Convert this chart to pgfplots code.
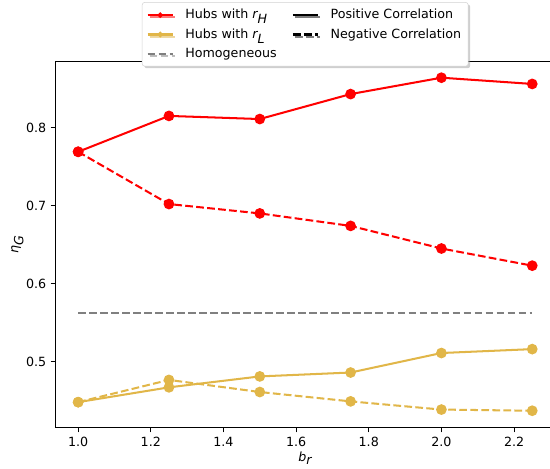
\documentclass[border=0pt]{standalone}
\usepackage{fontspec}
\setmainfont{DejaVu Sans}
\usepackage{pgfplots}
\pgfplotsset{compat=1.18}
\usetikzlibrary{shadows}
\definecolor{myred}{RGB}{255,0,0}
\definecolor{myyel}{RGB}{225,182,72}
\definecolor{mygray}{RGB}{128,128,128}
\newcommand{\lgsp}[1]{\makebox[0pt]{}\kern7pt #1}
\begin{document}
\begin{tikzpicture}
\begin{axis}[name=ax,
  scale only axis, width=394.6pt, height=289.1pt,
  xmin=0.9375, xmax=2.3125, ymin=0.4154, ymax=0.8846,
  xtick={1.0,1.2,1.4,1.6,1.8,2.0,2.2},
  ytick={0.5,0.6,0.7,0.8},
  tick align=outside, tick pos=left, major tick length=3.8pt,
  every tick/.style={black, line width=0.8pt},
  axis line style={line width=0.85pt},
  /pgf/number format/assume math mode=true,
  /pgf/number format/.cd, fixed, fixed zerofill, precision=1, /pgfplots/.cd,
  tick label style={font=\fontsize{10}{12}\selectfont},
  xlabel={$\textit{b}_{\textit{r}}$},
  ylabel={$\textit{η}_{\textit{G}}$},
  xlabel style={at={(axis description cs:0.5,0)}, anchor=base, yshift=-26.9pt},
  ylabel style={at={(axis description cs:-0.076,0.5)}, anchor=center},
  legend columns=2,
  legend cell align=left,
  legend image code/.code={\draw[mark repeat=2,mark phase=2,#1] plot coordinates {(0pt,0pt) (10pt,0pt) (20pt,0pt)};},
  legend style={at={(0.5,1)}, anchor=south, yshift=-3.8pt,
    draw=gray!35, fill=white, rounded corners=2pt,
    drop shadow={shadow xshift=1.6pt, shadow yshift=-1.6pt, fill=gray!75},
    cells={anchor=west},
    /tikz/every even column/.append style={column sep=10pt},
    row sep=2.2pt, inner sep=3.5pt, font=\fontsize{10}{12}\selectfont},
]
\addlegendimage{myred, line width=1.6pt, mark=*, mark size=1.3pt}
\addlegendentry{\lgsp{Hubs with $\textit{r}_{\textit{H}}$}}
\addlegendimage{black, line width=1.6pt}
\addlegendentry{\lgsp{Positive Correlation}}
\addlegendimage{myyel, line width=1.6pt, mark=*, mark size=1.3pt}
\addlegendentry{\lgsp{Hubs with $\textit{r}_{\textit{L}}$}}
\addlegendimage{black, line width=1.6pt, dash pattern=on 6.1pt off 2.6pt}
\addlegendentry{\lgsp{Negative Correlation}}
\addlegendimage{mygray, line width=1.6pt, dash pattern=on 6.1pt off 2.6pt}
\addlegendentry{\lgsp{Homogeneous}}

\addplot[forget plot, mygray, line width=1.6pt, dash pattern=on 6.1pt off 2.6pt] coordinates {(1.0,0.562) (2.25,0.562)};
\addplot[forget plot, myred, line width=1.6pt, mark=*, mark size=3.4pt] coordinates {(1.0,0.769) (1.25,0.815) (1.5,0.811) (1.75,0.843) (2.0,0.864) (2.25,0.856)};
\addplot[forget plot, myred, line width=1.6pt, dash pattern=on 6.1pt off 2.6pt, mark=*, mark size=3.4pt, mark options={solid}] coordinates {(1.0,0.769) (1.25,0.702) (1.5,0.690) (1.75,0.674) (2.0,0.645) (2.25,0.623)};
\addplot[forget plot, myyel, line width=1.6pt, mark=*, mark size=3.4pt] coordinates {(1.0,0.448) (1.25,0.467) (1.5,0.481) (1.75,0.486) (2.0,0.511) (2.25,0.516)};
\addplot[forget plot, myyel, line width=1.6pt, dash pattern=on 6.1pt off 2.6pt, mark=*, mark size=3.4pt, mark options={solid}] coordinates {(1.0,0.448) (1.25,0.4765) (1.5,0.461) (1.75,0.449) (2.0,0.4385) (2.25,0.437)};
\end{axis}
\pgfresetboundingbox
\path[use as bounding box] ([shift={(-43.8pt,-32.6pt)}]ax.south west) rectangle ([shift={(390.7pt,48.7pt)}]ax.north west);
\end{tikzpicture}
\end{document}
